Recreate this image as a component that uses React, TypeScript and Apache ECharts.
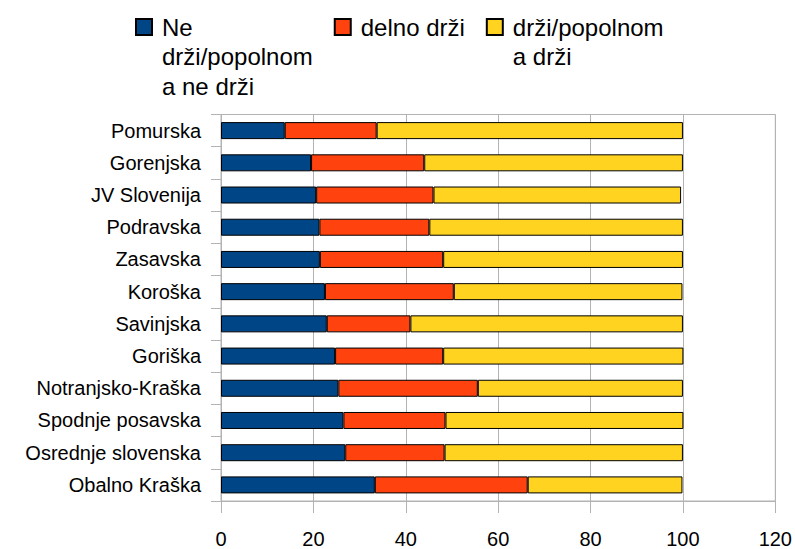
import React, { useEffect, useRef } from "react";
import * as echarts from "echarts";

const categories = [
  "Pomurska",
  "Gorenjska",
  "JV Slovenija",
  "Podravska",
  "Zasavska",
  "Koroška",
  "Savinjska",
  "Goriška",
  "Notranjsko-Kraška",
  "Spodnje posavska",
  "Osrednje slovenska",
  "Obalno Kraška",
];

const seriesNames = ["Ne drži/popolnom a ne drži", "delno drži", "drži/popolnom a drži"];
const legendLines = [
  ["Ne", "drži/popolnom", "a ne drži"],
  ["delno drži"],
  ["drži/popolnom", "a drži"],
];

const neDrzi = [13.8, 19.5, 20.6, 21.3, 21.4, 22.5, 22.9, 24.7, 25.4, 26.5, 26.9, 33.3];
const delnoDrzi = [19.9, 24.5, 25.4, 23.8, 26.7, 27.9, 18.1, 23.4, 30.2, 22.1, 21.5, 33.1];
const drzi = [66.3, 56.0, 53.6, 54.9, 51.9, 49.5, 59.0, 52.0, 44.4, 51.5, 51.6, 33.5];

const xTicks = { min: 0, max: 120, interval: 20 };

const colors = ["#004586", "#ff420e", "#ffd320"];

export default function App() {
  const ref = useRef<HTMLDivElement>(null);
  useEffect(() => {
    if (!ref.current) return;
    const chart = echarts.init(ref.current, null, { renderer: "svg" });
    const font = "Liberation Sans";
    const LH = 29.5;
    const seriesData = [neDrzi, delnoDrzi, drzi];
    // leading blank lines keep the first text line level with the legend icon
    const legendText = (name: string) => {
      const lines = legendLines[seriesNames.indexOf(name)];
      const pad = new Array(lines.length - 1).fill(" ");
      return [...pad, ...lines].join("\n");
    };
    chart.setOption({
      animation: false,
      textStyle: { fontFamily: font },
      legend: {
        left: 135,
        top: 27 - 2.5 * LH,
        padding: 0,
        itemGap: 21,
        itemWidth: 16,
        itemHeight: 16,
        icon: "rect",
        selectedMode: false,
        data: seriesNames,
        formatter: legendText,
        textStyle: { fontFamily: font, fontSize: 24, lineHeight: LH, color: "#000", padding: [0, 0, 0, 5] },
      },
      grid: {
        left: 221,
        right: 18,
        top: 114.5,
        bottom: 40.5,
        show: true,
        borderColor: "#b3b3b3",
        borderWidth: 1,
        containLabel: false,
      },
      xAxis: {
        type: "value",
        min: xTicks.min,
        max: xTicks.max,
        interval: xTicks.interval,
        axisLine: { show: true, lineStyle: { color: "#b3b3b3" } },
        axisTick: { show: true, length: 12, lineStyle: { color: "#b3b3b3" } },
        splitLine: { show: true, lineStyle: { color: "#b3b3b3" } },
        axisLabel: { fontFamily: font, fontSize: 20, color: "#000", margin: 28 },
      },
      yAxis: {
        type: "category",
        data: categories,
        inverse: true,
        axisLine: { show: true, lineStyle: { color: "#b3b3b3" } },
        axisTick: { show: true, length: 10, lineStyle: { color: "#b3b3b3" } },
        splitLine: { show: false },
        axisLabel: { fontFamily: font, fontSize: 20, color: "#000", margin: 20 },
      },
      series: seriesNames.map((n, i) => ({
        name: n,
        type: "bar",
        stack: "total",
        barWidth: 17,
        data: seriesData[i],
        itemStyle: { color: colors[i], borderColor: "#000", borderWidth: 1 },
      })),
    });
    return () => chart.dispose();
  }, []);
  return (
    <div
      ref={ref}
      style={{ position: "fixed", left: 0, top: 0, width: 795, height: 549, background: "#fff" }}
    />
  );
}
